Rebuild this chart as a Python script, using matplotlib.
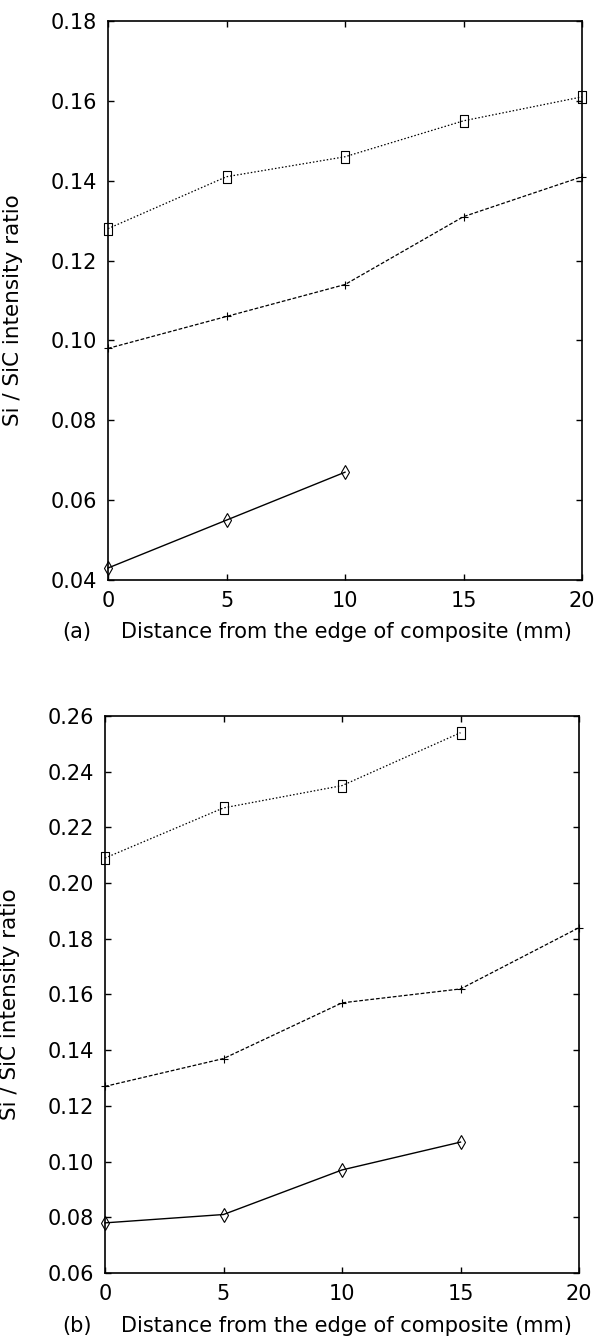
import matplotlib
matplotlib.use("Agg")
import matplotlib.pyplot as plt
from matplotlib.path import Path

plt.rcParams['font.family'] = ['DejaVu Sans']

x_a = [0, 5, 10, 15, 20]
sq_a = [0.128, 0.141, 0.146, 0.155, 0.161]
plus_a = [0.098, 0.106, 0.114, 0.131, 0.141]
x_dia_a = [0, 5, 10]
dia_a = [0.043, 0.055, 0.067]

x_sq_b = [0, 5, 10, 15]
sq_b = [0.209, 0.227, 0.235, 0.254]
x_plus_b = [0, 5, 10, 15, 20]
plus_b = [0.127, 0.137, 0.157, 0.162, 0.184]
x_dia_b = [0, 5, 10, 15]
dia_b = [0.078, 0.081, 0.097, 0.107]

xticks = [0, 5, 10, 15, 20]
yticks_a = [0.04, 0.06, 0.08, 0.10, 0.12, 0.14, 0.16, 0.18]
yticks_b = [0.06, 0.08, 0.10, 0.12, 0.14, 0.16, 0.18, 0.20, 0.22, 0.24, 0.26]

W, H = 602, 1338
fig = plt.figure(figsize=(W / 100, H / 100), dpi=100)
# axes boxes in pixels: left, top, right, bottom
ax1 = fig.add_axes([108 / W, 1 - 580 / H, 474 / W, 559 / H])
ax2 = fig.add_axes([105 / W, 1 - 1273 / H, 474 / W, 557 / H])

# tall open rectangle marker like in the scan
rect = Path([(-0.7, -1), (0.7, -1), (0.7, 1), (-0.7, 1), (-0.7, -1)],
            [Path.MOVETO, Path.LINETO, Path.LINETO, Path.LINETO, Path.CLOSEPOLY])


def draw(ax, sq, plus, dia, yticks, tag, label_y):
    ax.plot(sq[0], sq[1], color='black', linestyle=(0, (1.2, 1.6)), lw=0.9,
            marker=rect, ms=8, mfc='none', mec='black', mew=0.8, clip_on=False)
    ax.plot(plus[0], plus[1], color='black', linestyle=(0, (3, 1.5)), lw=0.9,
            marker='+', ms=6, mew=0.8, clip_on=False)
    ax.plot(dia[0], dia[1], color='black', linestyle='-', lw=1.0,
            marker='d', ms=7, mfc='none', mec='black', mew=0.8, clip_on=False)
    ax.set_xlim(0, 20)
    ax.set_ylim(yticks[0], yticks[-1])
    ax.set_xticks(xticks)
    ax.set_yticks(yticks)
    ax.set_yticklabels([f"{v:.2f}" for v in yticks])
    ax.tick_params(direction='in', top=True, right=True, length=4.5, width=1,
                   labelsize=15)
    ax.tick_params(axis='x', pad=8)
    ax.tick_params(axis='y', pad=8)
    for s in ax.spines.values():
        s.set_linewidth(1.2)
    ax.set_ylabel('Si / SiC intensity ratio', fontsize=15.5)
    ax.yaxis.set_label_coords(-0.179, 0.483)
    fig.text(62 / W, 1 - label_y / H, f'({tag})', fontsize=15,
             ha='left', va='center')
    fig.text(346 / W, 1 - label_y / H, 'Distance from the edge of composite (mm)',
             fontsize=15, ha='center', va='center')


draw(ax1, (x_a, sq_a), (x_a, plus_a), (x_dia_a, dia_a), yticks_a, 'a', 632)
draw(ax2, (x_sq_b, sq_b), (x_plus_b, plus_b), (x_dia_b, dia_b), yticks_b, 'b', 1326)

fig.savefig('out.png', dpi=100)
